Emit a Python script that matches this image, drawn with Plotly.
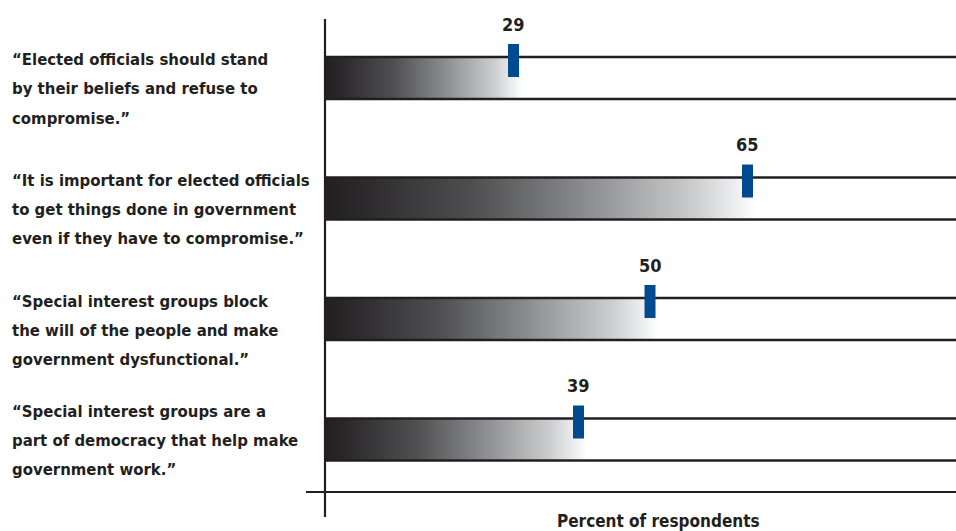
import plotly.graph_objects as go

# Survey statements and share of respondents agreeing (%)
statements = [
    ["\u201cElected officials should stand", "by their beliefs and refuse to", "compromise.\u201d"],
    ["\u201cIt is important for elected officials", "to get things done in government", "even if they have to compromise.\u201d"],
    ["\u201cSpecial interest groups block", "the will of the people and make", "government dysfunctional.\u201d"],
    ["\u201cSpecial interest groups are a", "part of democracy that help make", "government work.\u201d"],
]
values = [29, 65, 50, 39]
value_labels = ["29", "65", "50", "39"]
axis_title = "Percent of respondents"

# ---- geometry (pixels) ----
W, H = 956, 531
LEFT = 306               # left edge of the plot area
ZERO_PX = 325            # where 0% sits
PX_PER_UNIT = 6.5        # horizontal scale
ROW_TOP_PX = 78          # centre of the first row
ROW_STEP_PX = 120.5      # distance between rows

x0 = -(ZERO_PX - LEFT) / PX_PER_UNIT
x1 = x0 + (W - LEFT) / PX_PER_UNIT
y_top = -ROW_TOP_PX / ROW_STEP_PX
y_bot = (H - ROW_TOP_PX) / ROW_STEP_PX


def dy(px):
    """pixel offset -> row units"""
    return px / ROW_STEP_PX


def dx(px):
    return px / PX_PER_UNIT


def paper_x(px):
    return (px - LEFT) / (W - LEFT)


def paper_y(px):
    return 1 - px / H


INK = "#231f20"
BLUE = "#004b8f"
FONT = "DejaVu Sans Condensed, Liberation Sans Narrow, sans-serif"

half = dy(21)
fig = go.Figure()

# gradient bars
grad = [[0.0, "#231f20"], [0.08, "#2a282a"], [0.35, "#505053"],
        [0.6, "#8a8b8e"], [0.85, "#c9cbcd"], [1.0, "#ffffff"]]
for i, v in enumerate(values):
    end = v + dx(9)
    fig.add_trace(go.Scatter(
        x=[0, end, end, 0, 0], y=[i - half, i - half, i + half, i + half, i - half],
        mode="none", fill="toself",
        fillgradient=dict(type="horizontal", colorscale=grad, start=0, stop=end),
        hoverinfo="skip", showlegend=False))

# rule lines bounding each row
for i, v in enumerate(values):
    for yy in (i - half, i + half):
        fig.add_trace(go.Scatter(
            x=[0, x1], y=[yy, yy], mode="lines",
            line=dict(color=INK, width=2.6), hoverinfo="skip", showlegend=False))

# axis lines
fig.add_trace(go.Scatter(x=[0, 0], y=[y_top + dy(19), y_top + dy(517)], mode="lines",
                         line=dict(color=INK, width=2.2), hoverinfo="skip", showlegend=False))
fig.add_trace(go.Scatter(x=[x0, x1], y=[y_top + dy(492)] * 2, mode="lines",
                         line=dict(color=INK, width=2.2), hoverinfo="skip", showlegend=False))

# value markers
mw = dx(5.5)
for i, v in enumerate(values):
    t, b = i - dy(34), i - dy(1)
    fig.add_trace(go.Scatter(
        x=[v - mw, v + mw, v + mw, v - mw, v - mw], y=[t, t, b, b, t],
        mode="none", fill="toself", fillcolor=BLUE,
        hoverinfo="skip", showlegend=False))

annotations = []
for i, (v, lab) in enumerate(zip(values, value_labels)):
    annotations.append(dict(
        x=v, y=i - dy(54), xref="x", yref="y", text=f"<b>{lab}</b>",
        showarrow=False, xanchor="center", yanchor="middle",
        font=dict(family=FONT, size=18, color=INK)))

# statement text, one annotation per line
row_centres_px = [ROW_TOP_PX + ROW_STEP_PX * i for i in range(len(statements))]
label_shift = [0, 0, 0, -10]
for i, lines in enumerate(statements):
    for k, line in enumerate(lines):
        annotations.append(dict(
            x=paper_x(10), y=paper_y(row_centres_px[i] - 18 + 29 * k + label_shift[i]),
            xref="paper", yref="paper", text=f"<b>{line}</b>",
            showarrow=False, xanchor="left", yanchor="middle",
            font=dict(family=FONT, size=16.6, color=INK)))

annotations.append(dict(
    x=paper_x(658), y=paper_y(521), xref="paper", yref="paper",
    text=f"<b>{axis_title}</b>", showarrow=False, xanchor="center", yanchor="middle",
    font=dict(family=FONT, size=17, color=INK)))

fig.update_layout(
    width=W, height=H,
    margin=dict(l=LEFT, r=0, t=0, b=0),
    paper_bgcolor="white", plot_bgcolor="white",
    xaxis=dict(range=[x0, x1], visible=False, fixedrange=True),
    yaxis=dict(range=[y_bot, y_top], visible=False, fixedrange=True),
    annotations=annotations,
    showlegend=False,
)

fig.write_html("out.html")
